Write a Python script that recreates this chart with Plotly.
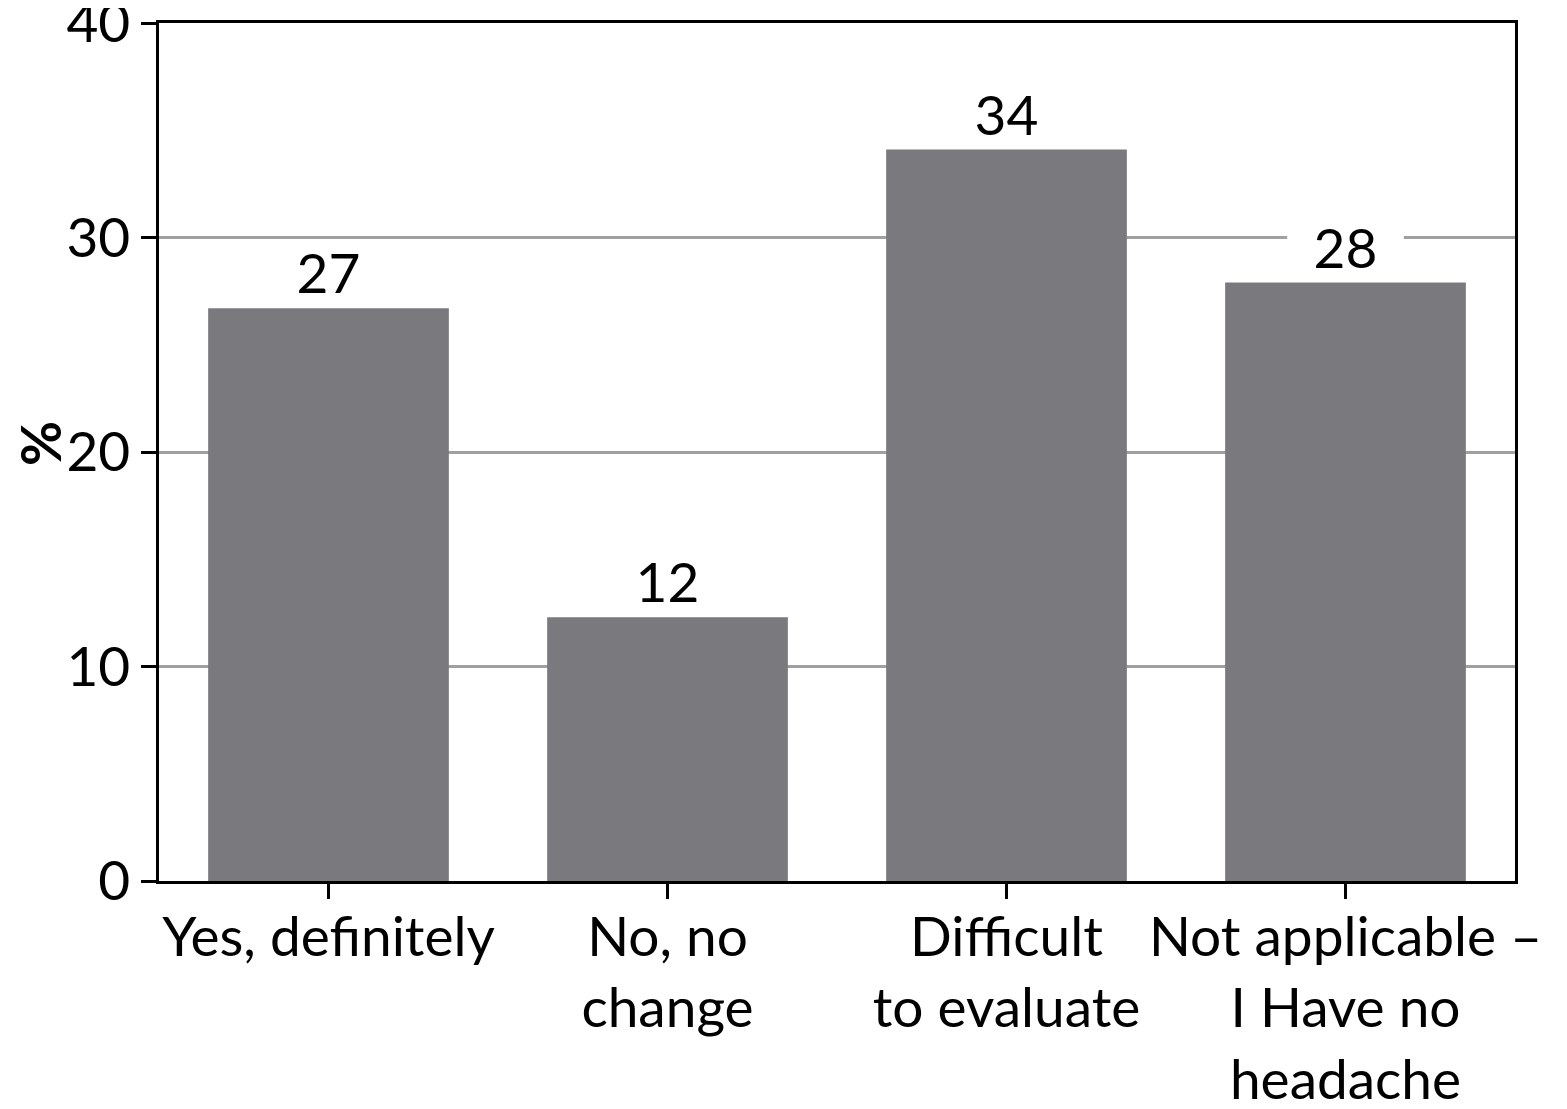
import plotly.graph_objects as go

categories = ["Yes, definitely", "No, no<br>change", "Difficult<br>to evaluate",
              "Not applicable –<br>I Have no<br>headache"]
values = [26.7, 12.3, 34.1, 27.9]
value_labels = ["27", "12", "34", "28"]
y_ticks = [0, 10, 20, 30, 40]

FONT = "Lato"
FS = 55
fig = go.Figure()
fig.add_trace(go.Bar(
    x=list(range(len(categories))), y=values, width=0.71,
    marker=dict(color="#7a7a7e", line=dict(width=0)),
    text=value_labels, textposition="outside", cliponaxis=False,
    textfont=dict(family=FONT, size=FS, color="black"),
    hoverinfo="skip",
))
# white knock-out behind value labels (above gridlines, below bars)
for i, v in enumerate(values):
    fig.add_shape(type="rect", layer="between", xref="x", yref="y",
                  x0=i - 0.172, x1=i + 0.172, y0=v, y1=v + 2.6,
                  fillcolor="white", line=dict(width=0))

fig.add_annotation(
    text="<b>%</b>", xref="paper", yref="paper", x=0, y=0.5,
    xanchor="center", yanchor="middle",
    xshift=-119, yshift=8, textangle=-90, showarrow=False,
    font=dict(family=FONT, size=FS, color="black"),
)

fig.update_layout(
    width=1567, height=1109,
    margin=dict(l=151, r=60, t=15, b=236),
    plot_bgcolor="white", paper_bgcolor="white",
    showlegend=False, bargap=0.29,
    font=dict(family=FONT, size=FS, color="black"),
    xaxis=dict(
        range=[-0.5, 3.5], tickmode="array", tickvals=list(range(len(categories))),
        ticktext=categories, ticks="outside", ticklen=15, tickwidth=2.5,
        tickcolor="black", showline=True, linecolor="black", linewidth=2.5,
        mirror=True, showgrid=False, zeroline=False, automargin=False,
        ticklabelstandoff=-9,
        tickfont=dict(family=FONT, size=FS, color="black"),
    ),
    yaxis=dict(
        range=[0, 40], tickmode="array", tickvals=y_ticks,
        ticktext=[str(t) for t in y_ticks], ticks="outside", ticklen=15,
        tickwidth=2.5, tickcolor="black", showline=True, linecolor="black",
        linewidth=2.5, mirror=True, showgrid=True, gridcolor="#a0a0a2",
        gridwidth=2.5, zeroline=False, automargin=False,
        ticklabeloverflow="allow",
        tickfont=dict(family=FONT, size=FS, color="black"),
    ),
)
fig.write_html("out.html")
